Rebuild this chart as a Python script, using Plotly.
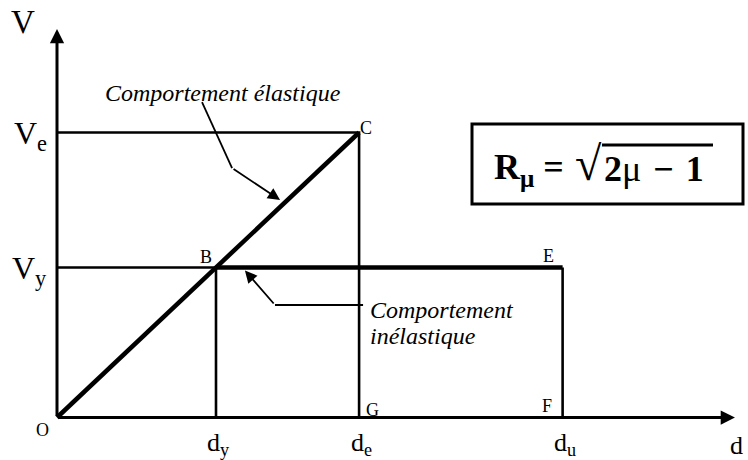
import plotly.graph_objects as go

# Idealised capacity curve: lateral displacement d against base shear V
d_names = ["d<sub>y</sub>", "d<sub>e</sub>", "d<sub>u</sub>"]
d_values = [1.0, 1.9, 3.18]          # yield, elastic and ultimate displacement
V_names = ["V<sub>y</sub>", "V<sub>e</sub>"]
V_values = [1.0, 1.9]                # yield strength and elastic demand
d_axis_end = 4.264
V_axis_end = 2.59

dy, de, du = d_values
Vy, Ve = V_values

W, H = 748, 460
X_RANGE = [-0.3585, 4.346]
Y_RANGE = [-0.2833, 2.7833]

SERIF = "Liberation Serif, Times New Roman, serif"
INK = "black"

fig = go.Figure()

# thin construction lines (projections on the axes)
fig.add_trace(go.Scatter(
    x=[0, de, de, None, 0, dy, dy, None, du, du],
    y=[Ve, Ve, 0, None, Vy, Vy, 0, None, Vy, 0],
    mode="lines", line=dict(color=INK, width=2.6),
    hoverinfo="skip", showlegend=False))

# elastic branch O-C
fig.add_trace(go.Scatter(
    x=[0, de], y=[0, Ve], mode="lines",
    line=dict(color=INK, width=4.5), hoverinfo="skip", showlegend=False))

# perfectly plastic branch B-E
fig.add_trace(go.Scatter(
    x=[dy, du], y=[Vy, Vy], mode="lines",
    line=dict(color=INK, width=4.5), hoverinfo="skip", showlegend=False))

# leader lines of the two callouts (first segment)
fig.add_trace(go.Scatter(
    x=[0.912, 1.101, None, 1.925, 1.371],
    y=[2.103, 1.663, None, 0.75, 0.75],
    mode="lines", line=dict(color=INK, width=1.8),
    hoverinfo="skip", showlegend=False))

ann = []

def arrow(x, y, ax, ay, width, size):
    ann.append(dict(x=x, y=y, ax=ax, ay=ay, xref="x", yref="y",
                    axref="x", ayref="y", text="", showarrow=True,
                    arrowhead=2, arrowsize=size, arrowwidth=width,
                    arrowcolor=INK, standoff=0))

def label(text, x, y, size, xshift=0, yshift=0, xanchor="center",
          yanchor="middle", xref="x", yref="y", family=SERIF):
    ann.append(dict(text=text, x=x, y=y, xref=xref, yref=yref,
                    showarrow=False, xanchor=xanchor, yanchor=yanchor,
                    xshift=xshift, yshift=yshift,
                    font=dict(family=family, size=size, color=INK)))

# axes with arrowheads
arrow(0, V_axis_end, 0, 0, 3, 0.95)
arrow(d_axis_end, 0, 0, 0, 3, 0.95)

# callout arrowheads
arrow(1.403, 1.45, 1.101, 1.663, 1.8, 1.35)
arrow(1.182, 0.98, 1.371, 0.75, 1.8, 1.35)

# axis titles
label("V", 0, V_axis_end, 33, xshift=-34, yshift=7)
label("d", d_axis_end, 0, 26, xshift=2, yshift=-28)

# axis values
for name, v in zip(V_names, V_values):
    label(name, 0, v, 32, xshift=-8, yshift=-3, xanchor="right")
for name, d in zip(d_names, d_values):
    label(name, d, 0, 26, xshift=2, yshift=-8, yanchor="top")

# characteristic points
points = [("O", 0, 0, -15, -12.5), ("B", dy, Vy, -10, 10.5),
          ("C", de, Ve, 7, 4.5), ("E", du, Vy, -14.6, 11.5),
          ("F", du, 0, -15.6, 11.5), ("G", de, 0, 13, 7.5)]
for name, x, y, sx, sy in points:
    label(name, x, y, 18, xshift=sx, yshift=sy)

# behaviour captions
label("<i>Comportement élastique</i>", 1.041, 2.163, 24)
label("<i>Comportement</i>", 1.955, 0.717, 24, xanchor="left")
label("<i>inélastique</i>", 1.955, 0.543, 24, xanchor="left")

# reduction factor formula in a framed box
def px(x):
    return x / W

def py(y):
    return 1 - y / H

label("<b>R<sub>μ</sub> =</b>", px(566), py(169), 36,
      xanchor="right", xref="paper", yref="paper")
label("√", px(604), py(163), 48,
      xanchor="right", xref="paper", yref="paper")
label("<b>2</b>μ<b>\u2004−\u20041</b>", px(602), py(169), 36,
      xanchor="left", xref="paper", yref="paper")

shapes = [
    dict(type="rect", xref="paper", yref="paper",
         x0=px(472), x1=px(743), y0=py(204), y1=py(124),
         line=dict(color=INK, width=3)),
    dict(type="line", xref="paper", yref="paper",
         x0=px(602), x1=px(713), y0=py(145), y1=py(145),
         line=dict(color=INK, width=3)),
]

fig.update_layout(
    width=W, height=H, autosize=False,
    margin=dict(l=0, r=0, t=0, b=0),
    paper_bgcolor="white", plot_bgcolor="white",
    xaxis=dict(range=X_RANGE, visible=False, fixedrange=True),
    yaxis=dict(range=Y_RANGE, visible=False, fixedrange=True),
    annotations=ann, shapes=shapes, showlegend=False,
)

fig.write_html("out.html")
